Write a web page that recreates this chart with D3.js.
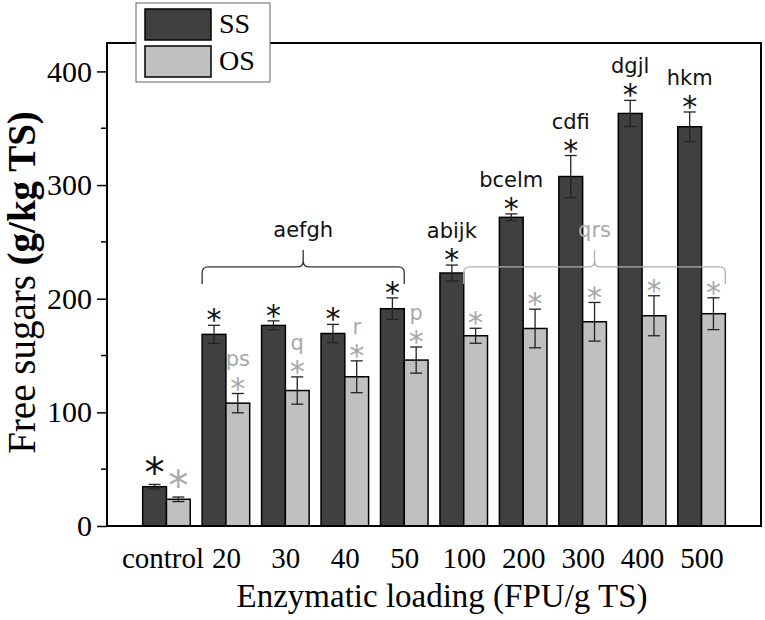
<!DOCTYPE html>
<html>
<head>
<meta charset="utf-8">
<script src="https://cdn.jsdelivr.net/npm/d3@7"></script>
<style>
  body { margin: 0; background: #fff; }
</style>
</head>
<body>
<svg id="chart"></svg>
<script>
const categories = ["control", "20", "30", "40", "50", "100", "200", "300", "400", "500"];
const ssValues = [34.6, 168.6, 176.5, 169.4, 191.2, 222.6, 271.6, 307.5, 363.0, 351.3];
const ssErrors = [2, 8, 4, 8, 9.5, 7, 3, 18.5, 11.5, 13];
const osValues = [23.5, 108.1, 119.2, 131.3, 146.0, 167.4, 173.8, 179.7, 185.0, 186.8];
const osErrors = [2, 8.5, 12, 14, 11.5, 6.6, 17, 17, 17.6, 14];
const ssLetters = ["", "", "", "", "", "abijk", "bcelm", "cdfi", "dgjl", "hkm"];
const osLetters = ["", "ps", "q", "r", "p", "", "", "", "", ""];
const braceLabels = ["aefgh", "qrs"];
const braceSeries = ["SS", "OS"];
const braceFrom = ["20", "100"];
const braceTo = ["50", "500"];
const braceLevel = [228, 228];
const seriesNames = ["SS", "OS"];
const yTicks = [0, 100, 200, 300, 400];
const yMinorTicks = [50, 150, 250, 350];

const width = 765;
const height = 620;
const margin = { top: 43, right: 4, bottom: 94, left: 107 };

const svg = d3.select("#chart")
  .attr("width", width)
  .attr("height", height);

const colors = { SS: "#404040", OS: "#c0c0c0" };
const annColors = { SS: "#111", OS: "#a8a8a8" };
const braceColors = { SS: "#333", OS: "#b0b0b0" };
const serif = "'Liberation Serif', 'Times New Roman', serif";
const sans = "'DejaVu Sans', sans-serif";

const x = d3.scalePoint()
  .domain(categories)
  .range([margin.left, width - margin.right])
  .padding(1);

const y = d3.scaleLinear()
  .domain([0, 425])
  .range([height - margin.bottom, margin.top]);

const barW = x.step() * 0.4;

const rows = categories.map((c, i) => ({
  cat: c, i,
  SS: { v: ssValues[i], e: ssErrors[i], t: ssLetters[i] },
  OS: { v: osValues[i], e: osErrors[i], t: osLetters[i] }
}));

// bars
seriesNames.forEach((s, k) => {
  const off = k === 0 ? -barW : 0;
  const g = svg.append("g").attr("class", "bars-" + s);

  g.selectAll("rect")
    .data(rows)
    .join("rect")
    .attr("x", d => x(d.cat) + off)
    .attr("y", d => y(d[s].v))
    .attr("width", barW)
    .attr("height", d => y(0) - y(d[s].v))
    .attr("fill", colors[s])
    .attr("stroke", "#000")
    .attr("stroke-width", 1.5);

  // error bars
  const eb = g.selectAll("g.err")
    .data(rows)
    .join("g")
    .attr("class", "err")
    .attr("transform", d => `translate(${x(d.cat) + off + barW / 2},0)`)
    .attr("stroke", "#222")
    .attr("stroke-width", 1.3);
  eb.append("line")
    .attr("y1", d => y(d[s].v + d[s].e))
    .attr("y2", d => y(d[s].v - d[s].e));
  eb.append("line")
    .attr("x1", -6).attr("x2", 6)
    .attr("y1", d => y(d[s].v + d[s].e))
    .attr("y2", d => y(d[s].v + d[s].e));
  eb.append("line")
    .attr("x1", -6).attr("x2", 6)
    .attr("y1", d => y(d[s].v - d[s].e))
    .attr("y2", d => y(d[s].v - d[s].e));

  // asterisks
  g.selectAll("text.star")
    .data(rows)
    .join("text")
    .attr("class", "star")
    .attr("x", d => x(d.cat) + off + barW / 2)
    .attr("y", d => {
      const fs = d.i === 0 ? 40 : 30;
      const gap = d.i === 0 ? 20 : 12;
      return y(d[s].v + d[s].e) - gap + 0.57 * fs;
    })
    .attr("text-anchor", "middle")
    .attr("font-family", sans)
    .attr("font-size", d => d.i === 0 ? 40 : 30)
    .attr("fill", annColors[s])
    .text("*");

  // letters
  g.selectAll("text.letters")
    .data(rows.filter(d => d[s].t))
    .join("text")
    .attr("class", "letters")
    .attr("x", d => x(d.cat) + off + barW / 2)
    .attr("y", d => y(d[s].v + d[s].e) - 12 - 15)
    .attr("text-anchor", "middle")
    .attr("font-family", sans)
    .attr("font-size", 21)
    .attr("fill", annColors[s])
    .text(d => d[s].t);
});

// braces
braceLabels.forEach((lab, i) => {
  const s = braceSeries[i];
  const off = s === "SS" ? -barW : 0;
  const x0 = x(braceFrom[i]) + off;
  const x1 = x(braceTo[i]) + off + barW;
  const xc = (x0 + x1) / 2;
  const h = y(braceLevel[i]);
  const dd = 17, r = 6;
  const p = d3.path();
  p.moveTo(x0, h + dd);
  p.lineTo(x0, h + r);
  p.quadraticCurveTo(x0, h, x0 + r, h);
  p.lineTo(xc - r, h);
  p.quadraticCurveTo(xc, h, xc, h - r);
  p.lineTo(xc, h - dd);
  p.moveTo(xc, h - r);
  p.quadraticCurveTo(xc, h, xc + r, h);
  p.lineTo(x1 - r, h);
  p.quadraticCurveTo(x1, h, x1, h + r);
  p.lineTo(x1, h + dd);
  svg.append("path")
    .attr("d", p.toString())
    .attr("fill", "none")
    .attr("stroke", braceColors[s])
    .attr("stroke-width", 1.3);
  svg.append("text")
    .attr("x", xc)
    .attr("y", h - dd - 13)
    .attr("text-anchor", "middle")
    .attr("font-family", sans)
    .attr("font-size", 21)
    .attr("fill", annColors[s])
    .text(lab);
});

// frame
svg.append("rect")
  .attr("x", margin.left)
  .attr("y", margin.top)
  .attr("width", width - margin.right - margin.left)
  .attr("height", y(0) - margin.top)
  .attr("fill", "none")
  .attr("stroke", "#000")
  .attr("stroke-width", 2);

// y axis
const yAxis = svg.append("g")
  .attr("transform", `translate(${margin.left},0)`)
  .call(d3.axisLeft(y).tickValues(yTicks).tickSize(10).tickPadding(5));
yAxis.select(".domain").remove();
yAxis.selectAll("line").attr("stroke", "#000").attr("stroke-width", 1.5);
yAxis.selectAll("text")
  .attr("font-family", serif)
  .attr("font-size", 30)
  .attr("fill", "#000");

svg.append("g")
  .selectAll("line")
  .data(yMinorTicks)
  .join("line")
  .attr("x1", margin.left - 6)
  .attr("x2", margin.left)
  .attr("y1", d => y(d))
  .attr("y2", d => y(d))
  .attr("stroke", "#000")
  .attr("stroke-width", 1.5);

// x axis
const xAxis = svg.append("g")
  .attr("transform", `translate(0,${y(0)})`)
  .call(d3.axisBottom(x).tickSize(0).tickPadding(21));
xAxis.select(".domain").remove();
xAxis.selectAll("text")
  .attr("font-family", serif)
  .attr("font-size", 29)
  .attr("fill", "#000");
xAxis.selectAll("text").filter(d => d === "control").attr("dx", -4);

// axis titles
svg.append("text")
  .attr("x", (margin.left + width - margin.right) / 2 + 8)
  .attr("y", 607)
  .attr("text-anchor", "middle")
  .attr("font-family", serif)
  .attr("font-size", 33)
  .text("Enzymatic loading (FPU/g TS)");

const yt = svg.append("text")
  .attr("transform", `translate(35,${(margin.top + y(0)) / 2 - 2}) rotate(-90)`)
  .attr("text-anchor", "middle")
  .attr("font-family", serif)
  .attr("font-size", 39);
yt.append("tspan").text("Free sugars ");
yt.append("tspan").attr("font-weight", "bold").text("(g/kg TS)");

// legend
const leg = svg.append("g");
leg.append("rect")
  .attr("x", 136).attr("y", 3)
  .attr("width", 134).attr("height", 79)
  .attr("fill", "#fff")
  .attr("stroke", "#666")
  .attr("stroke-width", 1);
seriesNames.forEach((s, k) => {
  leg.append("rect")
    .attr("x", 145).attr("y", 9 + k * 37)
    .attr("width", 66).attr("height", 31)
    .attr("fill", colors[s])
    .attr("stroke", "#000")
    .attr("stroke-width", 1.5);
  leg.append("text")
    .attr("x", 219).attr("y", 33 + k * 37)
    .attr("font-family", serif)
    .attr("font-size", 28)
    .text(s);
});
</script>
</body>
</html>
